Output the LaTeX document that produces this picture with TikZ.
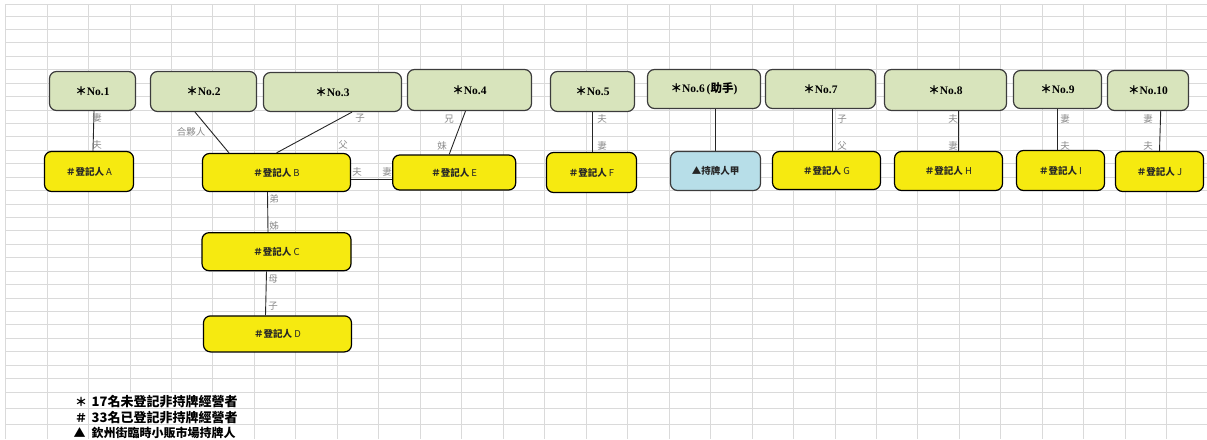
\documentclass[tikz,border=0pt]{standalone}
\usepackage{fontspec}
\setmainfont{Liberation Serif}
\newfontfamily\cjk{Noto Sans CJK TC}
\usepackage{tikz}
\usetikzlibrary{positioning}
\definecolor{nogreen}{HTML}{D8E4BC}
\definecolor{regyellow}{HTML}{F6EA10}
\definecolor{licblue}{HTML}{B7DEE8}
\definecolor{boxgray}{HTML}{3C3C3C}
\definecolor{relgray}{HTML}{8A8A8A}
\definecolor{gridgray}{HTML}{DADADA}
\tikzstyle{gblock} = [rectangle, draw=boxgray, fill=nogreen, line width=1.2pt,
text centered, rounded corners=7pt, font=\bfseries\fontsize{11.5}{12}\selectfont]
\tikzstyle{yblock} = [rectangle, draw=black, fill=regyellow, line width=1.2pt,
text centered, rounded corners=7pt, text=black!85, font=\cjk\bfseries\fontsize{9.5}{10}\selectfont]
\tikzstyle{bblock} = [rectangle, draw=boxgray, fill=licblue, line width=1.2pt,
text centered, rounded corners=7pt, text=black!85, font=\cjk\bfseries\fontsize{9.5}{10}\selectfont]
\tikzstyle{rel} = [inner sep=0pt, text=relgray, font=\cjk\fontsize{9.5}{10}\selectfont]
\tikzstyle{keysym} = [inner sep=0pt, font=\cjk\bfseries\fontsize{12}{13}\selectfont]
\tikzstyle{keytext} = [inner sep=0pt, anchor=west, font=\cjk\bfseries\fontsize{13}{14}\selectfont]
\tikzstyle{link} = [line width=0.9pt, draw=black!85]
\tikzstyle{cellline} = [line width=0.8pt, draw=gridgray]

\begin{document}
\begin{tikzpicture}[x=1pt, y=-1pt]
                \useasboundingbox (0,0) rectangle (1207,439);
                % sheet grid
                \foreach \i in {0,...,28} \draw [cellline] (5.5+41.47*\i,4) -- (5.5+41.47*\i,392);
                \foreach \i in {0,1,2,6,7,...,28} \draw [cellline] (5.5+41.47*\i,392) -- (5.5+41.47*\i,439);
                \foreach \j in {0,...,28} \draw [cellline] (5,16+13.43*\j) -- (1207,16+13.43*\j);
                \foreach \y in {4,408,424} \draw [cellline] (5,\y) -- (1207,\y);
                % unregistered operators
                \node (1) [gblock, minimum width=86pt, minimum height=39pt] at (92.5,91) {{\cjk ＊}No.1};
                \node (2) [gblock, minimum width=106pt, minimum height=40pt] at (203.5,91.5) {{\cjk ＊}No.2};
                \node (3) [gblock, minimum width=138pt, minimum height=39pt] at (332.5,92) {{\cjk ＊}No.3};
                \node (4) [gblock, minimum width=124pt, minimum height=41pt] at (469.5,90) {{\cjk ＊}No.4};
                \node (5) [gblock, minimum width=84pt, minimum height=40pt] at (592.5,91.5) {{\cjk ＊}No.5};
                \node (6) [gblock, minimum width=113pt, minimum height=39pt] at (704,89) {{\cjk ＊}No.6\,({\cjk 助手})};
                \node (7) [gblock, minimum width=110pt, minimum height=39pt] at (820.5,89) {{\cjk ＊}No.7};
                \node (8) [gblock, minimum width=122pt, minimum height=41pt] at (945.5,90) {{\cjk ＊}No.8};
                \node (9) [gblock, minimum width=88pt, minimum height=38pt] at (1057.5,89.5) {{\cjk ＊}No.9};
                \node (10) [gblock, minimum width=81pt, minimum height=40pt] at (1148,90.5) {{\cjk ＊}No.10};
                % registered operators and licence holder
                \node (a) [yblock, minimum width=89pt, minimum height=40pt] at (89,171.5) {＃登記人 {\mdseries A}};
                \node (b) [yblock, minimum width=148pt, minimum height=38pt] at (276.5,172.5) {＃登記人 {\mdseries B}};
                \node (e) [yblock, minimum width=123pt, minimum height=35pt, right=41pt of b] {＃登記人 {\mdseries E}};
                \node (c) [yblock, minimum width=149pt, minimum height=38pt, below=40pt of b] {＃登記人 {\mdseries C}};
                \node (d) [yblock, minimum width=148pt, minimum height=36pt, below=44pt of c, xshift=1pt] {＃登記人 {\mdseries D}};
                \node (f) [yblock, minimum width=90pt, minimum height=40pt] at (591.5,172.5) {＃登記人 {\mdseries F}};
                \node (k) [bblock, minimum width=90pt, minimum height=39pt] at (715.5,171) {▲持牌人甲};
                \node (g) [yblock, minimum width=108pt, minimum height=38pt] at (826.5,170.5) {＃登記人 {\mdseries G}};
                \node (h) [yblock, minimum width=108pt, minimum height=39pt] at (948.5,171) {＃登記人 {\mdseries H}};
                \node (i) [yblock, minimum width=88pt, minimum height=40pt] at (1060.5,170.5) {＃登記人 {\mdseries I}};
                \node (j) [yblock, minimum width=88pt, minimum height=40pt] at (1159.5,171.5) {＃登記人 {\mdseries J}};
                % relations
                \draw [link] ([xshift=1.5pt]1.south) -- ([xshift=4pt]a.north);
                \draw [link] ([xshift=-8.5pt]2.south) -- ([xshift=-47.5pt]b.north);
                \draw [link] ([xshift=19.5pt]3.south) -- (b.north);
                \draw [link] ([yshift=-7pt]b.east) -- ([yshift=-7pt]e.west);
                \draw [link] ([xshift=-4pt]4.south) -- ([xshift=-5pt]e.north);
                \draw [link] ([xshift=-0.5pt]5.south) -- ([xshift=0.5pt]f.north);
                \draw [link] ([xshift=11pt]6.south) -- ([xshift=-0.5pt]k.north);
                \draw [link] ([xshift=11.5pt]7.south) -- ([xshift=5.5pt]g.north);
                \draw [link] ([xshift=12.5pt]8.south) -- ([xshift=9.5pt]h.north);
                \draw [link] (9.south) -- ([xshift=-3pt]i.north);
                \draw [link] ([xshift=12.7pt]10.south) -- (j.north);
                \draw [link] ([xshift=-9pt]b.south) -- ([xshift=-8.5pt]c.north);
                \draw [link] ([xshift=-10pt]c.south) -- ([xshift=-12pt]d.north);
                \node (r1) [rel] at (97,118) {妻};
                \node (r2) [rel] at (97,144.5) {夫};
                \node (r3) [rel] at (191,132) {合夥人};
                \node (r4) [rel] at (360,118) {子};
                \node (r5) [rel] at (343,145) {父};
                \node (r6) [rel] at (357,172) {夫};
                \node (r7) [rel] at (387,172) {妻};
                \node (r8) [rel] at (449,119) {兄};
                \node (r9) [rel] at (442,145.5) {妹};
                \node (r10) [rel] at (602,119) {夫};
                \node (r11) [rel] at (602,145.5) {妻};
                \node (r12) [rel] at (842,119) {子};
                \node (r13) [rel] at (842,145.5) {父};
                \node (r14) [rel] at (953,119) {夫};
                \node (r15) [rel] at (953,145.5) {妻};
                \node (r16) [rel] at (1065,119) {妻};
                \node (r17) [rel] at (1065,145.5) {夫};
                \node (r18) [rel] at (1148,119) {妻};
                \node (r19) [rel] at (1148,145.5) {夫};
                \node (r20) [rel] at (274,199) {弟};
                \node (r21) [rel] at (274,225.5) {姊};
                \node (r22) [rel] at (273,279) {母};
                \node (r23) [rel] at (273,306) {子};
                % key
                \node (s1) [keysym] at (81,402) {＊};
                \node (s2) [keysym] at (81,418) {＃};
                \node (s3) [keysym] at (79.5,433) {▲};
                \node (t1) [keytext] at (91.5,402) {17名未登記非持牌經營者};
                \node (t2) [keytext] at (91.5,418) {33名已登記非持牌經營者};
                \node (t3) [keytext, font=\cjk\bfseries\fontsize{12}{13}\selectfont] at (91.5,433) {欽州街臨時小販市場持牌人};
\end{tikzpicture}
\end{document}
